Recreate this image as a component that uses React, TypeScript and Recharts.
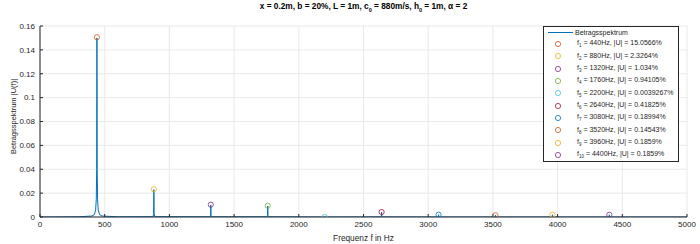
import React from 'react';
import { ComposedChart, Line, Scatter, XAxis, YAxis, CartesianGrid } from 'recharts';

// spectrum line (frequency in Hz, magnitude)
const specFreq = [
  0, 300, 400, 420, 430, 435, 438, 440, 442, 445, 450, 460, 480, 600,
  874, 878, 880, 882, 886, 1314, 1318, 1320, 1322, 1326,
  1754, 1758, 1760, 1762, 1766, 2194, 2200, 2206, 2634, 2638, 2640, 2642, 2646,
  3074, 3078, 3080, 3082, 3086, 3514, 3518, 3520, 3522, 3526,
  3954, 3958, 3960, 3962, 3966, 4394, 4398, 4400, 4402, 4406, 5000,
];
const specMag = [
  0, 0.0002, 0.0008, 0.002, 0.006, 0.015, 0.04, 0.15, 0.04, 0.015, 0.006, 0.002, 0.0008, 0.0002,
  0.0003, 0.003, 0.0229, 0.003, 0.0003, 0.0002, 0.0015, 0.0101, 0.0015, 0.0002,
  0.0002, 0.0014, 0.0092, 0.0014, 0.0002, 0, 0.0001, 0,
  0.0001, 0.0007, 0.0041, 0.0007, 0.0001,
  0, 0.0003, 0.0019, 0.0003, 0,
  0, 0.0002, 0.00145, 0.0002, 0,
  0, 0.0003, 0.00186, 0.0003, 0, 0, 0.0003, 0.00186, 0.0003, 0, 0,
];

// harmonic markers
const harmFreq = [440, 880, 1320, 1760, 2200, 2640, 3080, 3520, 3960, 4400];
const harmMag = [0.150566, 0.023264, 0.01034, 0.0094105, 0.000039267, 0.0041825, 0.0018994, 0.0014543, 0.001859, 0.001859];
const harmLabel = ['15.0566', '2.3264', '1.034', '0.94105', '0.0039267', '0.41825', '0.18994', '0.14543', '0.1859', '0.1859'];
const harmColor = ['#D95319', '#EDB120', '#7E2F8E', '#77AC30', '#4DBEEE', '#A2142F', '#0072BD', '#D95319', '#EDB120', '#7E2F8E'];

const xTicks = [0, 500, 1000, 1500, 2000, 2500, 3000, 3500, 4000, 4500, 5000];
const yTicks = [0, 0.02, 0.04, 0.06, 0.08, 0.1, 0.12, 0.14, 0.16];

const FONT = '"Liberation Sans", Arial, sans-serif';
const TXT = '#262626';

const lineData = specFreq.map((f, i) => ({ f, u: specMag[i] }));
const markerData = harmFreq.map((f, i) => ({ f, u: harmMag[i], color: harmColor[i] }));

const Ring = (props: any) => {
  const { cx, cy, payload } = props;
  return <circle cx={cx} cy={cy} r={2.6} fill="none" stroke={payload.color} strokeWidth={0.8} />;
};

export default function App() {
  return (
    <div style={{ position: 'absolute', left: 0, top: 0, width: 700, height: 244, background: '#fff', fontFamily: FONT }}>
      <div
        style={{
          position: 'absolute', left: 0, width: 727, top: 1, textAlign: 'center',
          fontSize: 8.3, fontWeight: 'bold', color: '#000', whiteSpace: 'nowrap',
        }}
      >
        x = 0.2m, b = 20%, L = 1m, c<sub style={{ fontSize: 5.5 }}>0</sub> = 880m/s, h<sub style={{ fontSize: 5.5 }}>0</sub> = 1m, α = 2
      </div>
      <ComposedChart width={700} height={244} margin={{ top: 26, right: 13, bottom: 0, left: 0 }}>
        <CartesianGrid stroke="#e3e3e3" strokeWidth={0.8} />
        <XAxis
          type="number"
          dataKey="f"
          domain={[0, 5000]}
          ticks={xTicks}
          allowDataOverflow
          height={27}
          tickSize={-3}
          tickMargin={7}
          stroke={TXT}
          tick={{ fill: TXT, fontSize: 8, fontFamily: FONT }}
          label={{ value: 'Frequenz f in Hz', position: 'insideBottom', offset: 3, fill: TXT, fontSize: 8.3, fontFamily: FONT }}
        />
        <YAxis
          type="number"
          dataKey="u"
          domain={[0, 0.16]}
          ticks={yTicks}
          allowDataOverflow
          width={40}
          tickSize={-3}
          tickMargin={8}
          stroke={TXT}
          tickFormatter={(v: number) => String(+v.toFixed(2))}
          tick={{ fill: TXT, fontSize: 8, fontFamily: FONT }}
          label={{ value: 'Betragsspektrum |U(f)|', angle: -90, position: 'center', dx: -7, dy: -5, fill: TXT, fontSize: 7.5, fontFamily: FONT }}
        />
        <Line
          data={lineData}
          dataKey="u"
          type="linear"
          stroke="#0072BD"
          strokeWidth={1}
          dot={false}
          isAnimationActive={false}
        />
        <Scatter data={markerData} dataKey="u" shape={Ring} isAnimationActive={false} />
      </ComposedChart>
      <div
        style={{
          position: 'absolute', left: 543, top: 26, width: 136, height: 136,
          border: '1px solid #262626', background: '#fff', fontSize: 7, color: TXT,
          boxSizing: 'border-box',
        }}
      >
        <div style={{ display: 'flex', alignItems: 'center', height: 11 }}>
          <div style={{ width: 25, marginLeft: 4, borderTop: '1px solid #0072BD' }} />
          <span style={{ marginLeft: 2 }}>Betragsspektrum</span>
        </div>
        {harmFreq.map((f, i) => (
          <div key={f} style={{ display: 'flex', alignItems: 'center', height: 12.3 }}>
            <div style={{ width: 33, position: 'relative', height: 12 }}>
              <svg width={33} height={12} style={{ position: 'absolute', left: 0, top: 0 }}>
                <circle cx={14} cy={6} r={2.6} fill="none" stroke={harmColor[i]} strokeWidth={0.8} />
              </svg>
            </div>
            <span style={{ whiteSpace: 'nowrap' }}>
              f<sub style={{ fontSize: 4.5 }}>{i + 1}</sub> = {f}Hz, |U| = {harmLabel[i]}%
            </span>
          </div>
        ))}
      </div>
    </div>
  );
}
